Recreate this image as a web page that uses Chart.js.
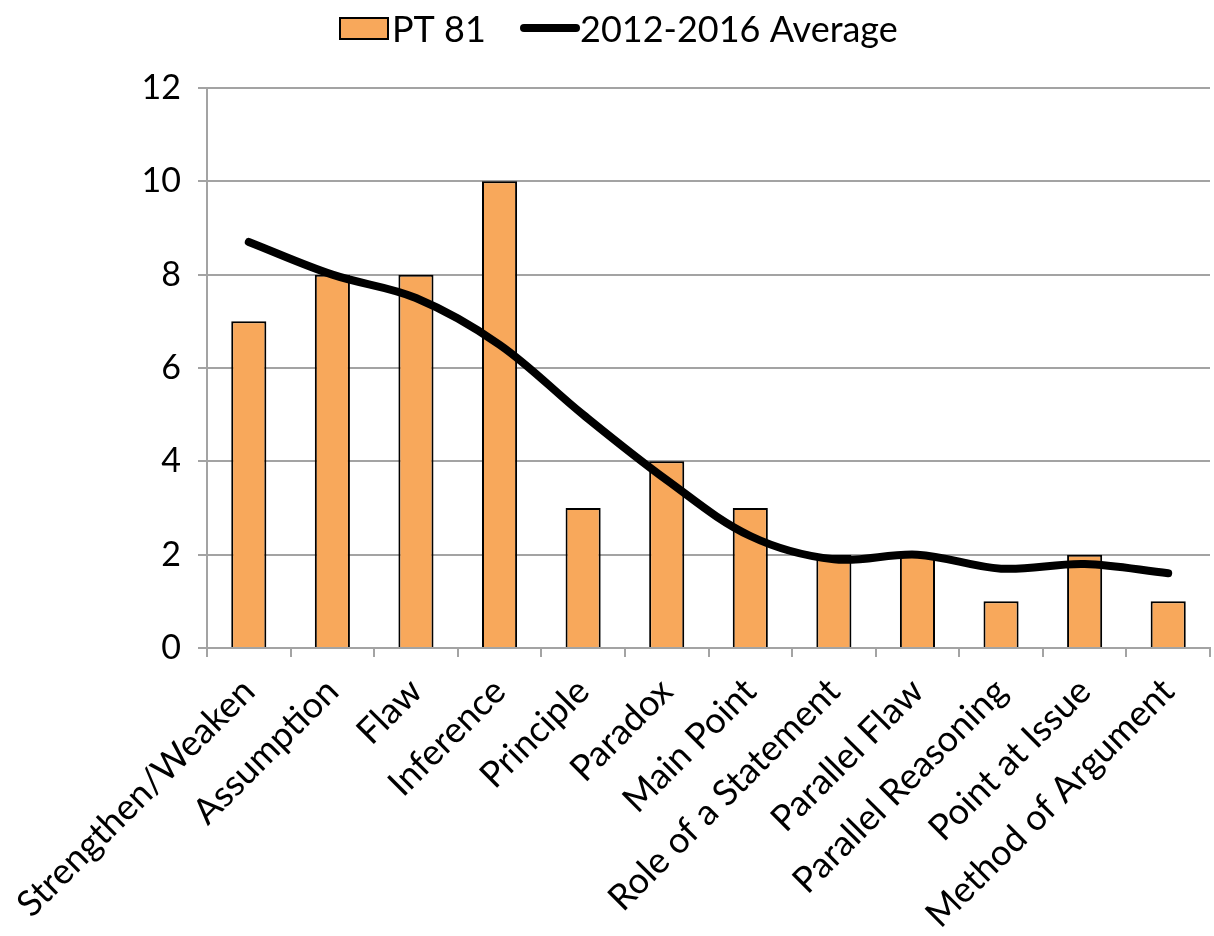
<!DOCTYPE html>
<html>
<head>
<meta charset="utf-8">
<script src="https://cdn.jsdelivr.net/npm/chart.js@4/dist/chart.umd.min.js"></script>
<style>
  html, body { margin: 0; padding: 0; background: #ffffff; }
  #wrap { width: 1214px; height: 936px; }
</style>
</head>
<body>
<div id="wrap"><canvas id="c" width="1214" height="936"></canvas></div>
<script>
// Question types
const categories = [
  'Strengthen/Weaken', 'Assumption', 'Flaw', 'Inference', 'Principle', 'Paradox',
  'Main Point', 'Role of a Statement', 'Parallel Flaw', 'Parallel Reasoning',
  'Point at Issue', 'Method of Argument'
];
// Question counts in PT 81
const pt81Counts = [7, 8, 8, 10, 3, 4, 3, 2, 2, 1, 2, 1];
// Average counts across 2012-2016
const averageCounts = [8.7, 8.0, 7.5, 6.5, 5.0, 3.6, 2.4, 1.9, 2.0, 1.7, 1.8, 1.6];
// Y axis ticks
const yTicks = [0, 2, 4, 6, 8, 10, 12];

const FONT = 'Lato, "Open Sans", sans-serif';
const BAR_FILL = '#F8A85B';
const GRID = '#A3A3A3';

// Legend drawn across the top: bar swatch + text, line swatch + text
const topLegend = {
  id: 'topLegend',
  afterDraw(chart) {
    const ctx = chart.ctx;
    const bar = chart.data.datasets[1];
    const line = chart.data.datasets[0];
    ctx.save();
    ctx.font = '36px ' + FONT;
    ctx.textBaseline = 'middle';
    ctx.fillStyle = '#000';
    const cy = 28;
    // bar item
    let x = 340;
    ctx.fillStyle = bar.backgroundColor;
    ctx.fillRect(x, cy - 10, 48, 21);
    ctx.lineWidth = 2;
    ctx.strokeStyle = bar.borderColor;
    ctx.strokeRect(x, cy - 10, 48, 21);
    ctx.fillStyle = '#000';
    ctx.fillText(bar.label, x + 52, cy + 2);
    // line item
    x = 524;
    ctx.beginPath();
    ctx.lineCap = 'round';
    ctx.lineWidth = 8;
    ctx.strokeStyle = line.borderColor;
    ctx.moveTo(x, cy);
    ctx.lineTo(x + 52, cy);
    ctx.stroke();
    ctx.fillText(line.label, x + 56, cy + 2);
    ctx.restore();
  }
};

new Chart(document.getElementById('c'), {
  data: {
    labels: categories,
    datasets: [
      {
        type: 'line',
        label: '2012-2016 Average',
        data: averageCounts,
        borderColor: '#000000',
        borderWidth: 8,
        borderCapStyle: 'round',
        borderJoinStyle: 'round',
        tension: 0.35,
        pointRadius: 0,
        order: 0
      },
      {
        type: 'bar',
        label: 'PT 81',
        data: pt81Counts,
        backgroundColor: BAR_FILL,
        borderColor: '#000000',
        borderWidth: 2,
        categoryPercentage: 1,
        barPercentage: 0.42,
        order: 1
      }
    ]
  },
  options: {
    responsive: false,
    animation: false,
    devicePixelRatio: 1,
    layout: { padding: { top: 88, right: 4, left: 0, bottom: 0 } },
    plugins: {
      legend: { display: false },
      tooltip: { enabled: false }
    },
    scales: {
      x: {
        offset: true,
        grid: {
          display: true,
          offset: true,
          drawOnChartArea: false,
          drawTicks: true,
          tickLength: 9,
          color: GRID,
          lineWidth: 2
        },
        border: { display: true, color: GRID, width: 2 },
        ticks: {
          autoSkip: false,
          maxRotation: 45,
          minRotation: 45,
          padding: 13,
          color: '#000',
          font: { family: FONT, size: 36 }
        },
        afterFit(scale) { scale.height = 288; }
      },
      y: {
        min: 0,
        max: 12,
        afterBuildTicks(scale) { scale.ticks = yTicks.map(v => ({ value: v })); },
        grid: {
          color: GRID,
          lineWidth: 2,
          tickLength: 9,
          drawTicks: true
        },
        border: { display: true, color: GRID, width: 2 },
        ticks: {
          padding: 17,
          color: '#000',
          font: { family: FONT, size: 34 }
        },
        afterFit(scale) { scale.width = 207; }
      }
    }
  },
  plugins: [topLegend]
});
</script>
</body>
</html>
